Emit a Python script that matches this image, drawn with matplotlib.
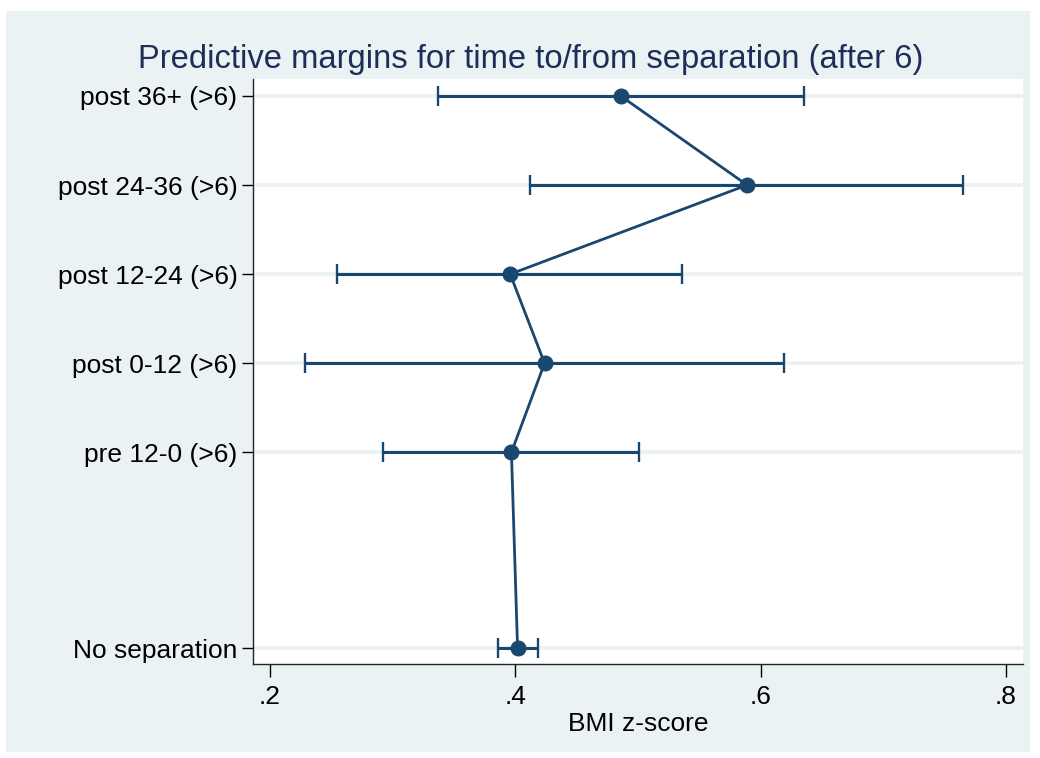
import matplotlib
matplotlib.use('Agg')
import matplotlib.pyplot as plt
from matplotlib.patches import Rectangle

plt.rcParams['font.family'] = ['Liberation Sans', 'DejaVu Sans']

# categories, bottom to top, and where they sit on the y scale
labels = ['No separation', 'pre 12-0 (>6)', 'post 0-12 (>6)',
          'post 12-24 (>6)', 'post 24-36 (>6)', 'post 36+ (>6)']
ypos = [0, 2.2, 3.2, 4.2, 5.2, 6.2]

# predictive margins with 95% CI (BMI z-score)
margin = [0.402, 0.397, 0.424, 0.396, 0.589, 0.486]
ci_lo = [0.386, 0.292, 0.229, 0.255, 0.412, 0.337]
ci_hi = [0.419, 0.501, 0.619, 0.536, 0.765, 0.635]

xticks = [0.2, 0.4, 0.6, 0.8]
xtick_labels = ['.2', '.4', '.6', '.8']

navy = '#1A476F'
bluishgray = '#EAF2F3'

W, H = 1040, 758
fig = plt.figure(figsize=(W / 100, H / 100), dpi=100)
fig.patch.set_facecolor('white')
# graph region background (behind the axes)
fig.patches.append(Rectangle((6 / W, 6 / H), (1030 - 6) / W, (752 - 11) / H,
                             transform=fig.transFigure, facecolor=bluishgray,
                             edgecolor='none', zorder=-10))

ax = fig.add_axes([252.7 / W, 1 - 664 / H, (1023 - 252.7) / W, (664 - 79) / H])
ax.set_facecolor('white')

# grid lines at each category
for y in ypos:
    ax.axhline(y, color=bluishgray, linewidth=2.6, zorder=1)

xerr = [[m - l for m, l in zip(margin, ci_lo)], [h - m for m, h in zip(margin, ci_hi)]]
ax.errorbar(margin, ypos, xerr=xerr, fmt='none', ecolor=navy, elinewidth=2.2,
            capsize=7, capthick=1.7, zorder=2)
ax.plot(margin, ypos, color=navy, linewidth=2.0, marker='o', markersize=10.5,
        markerfacecolor=navy, markeredgecolor=navy, zorder=3)

ax.set_xlim(0.1862, 0.8138)
ax.set_ylim(-0.176, 6.39)
ax.set_xticks(xticks)
ax.set_xticklabels(xtick_labels)
ax.set_yticks(ypos)
ax.set_yticklabels(labels)
ax.tick_params(axis='both', labelsize=19, colors='black', width=1.0)
ax.tick_params(axis='y', length=8, pad=3)
ax.tick_params(axis='x', length=9, pad=6)

for side in ['top', 'right']:
    ax.spines[side].set_visible(False)
for side in ['left', 'bottom']:
    ax.spines[side].set_linewidth(1.0)
    ax.spines[side].set_color('#222222')

ax.set_xlabel('BMI z-score', fontsize=19, labelpad=2)

fig.text(531 / W, 1 - 68 / H, 'Predictive margins for time to/from separation (after 6)',
         ha='center', va='baseline', fontsize=23.6, color='#1E2E58')

fig.savefig('out.png', dpi=100)
